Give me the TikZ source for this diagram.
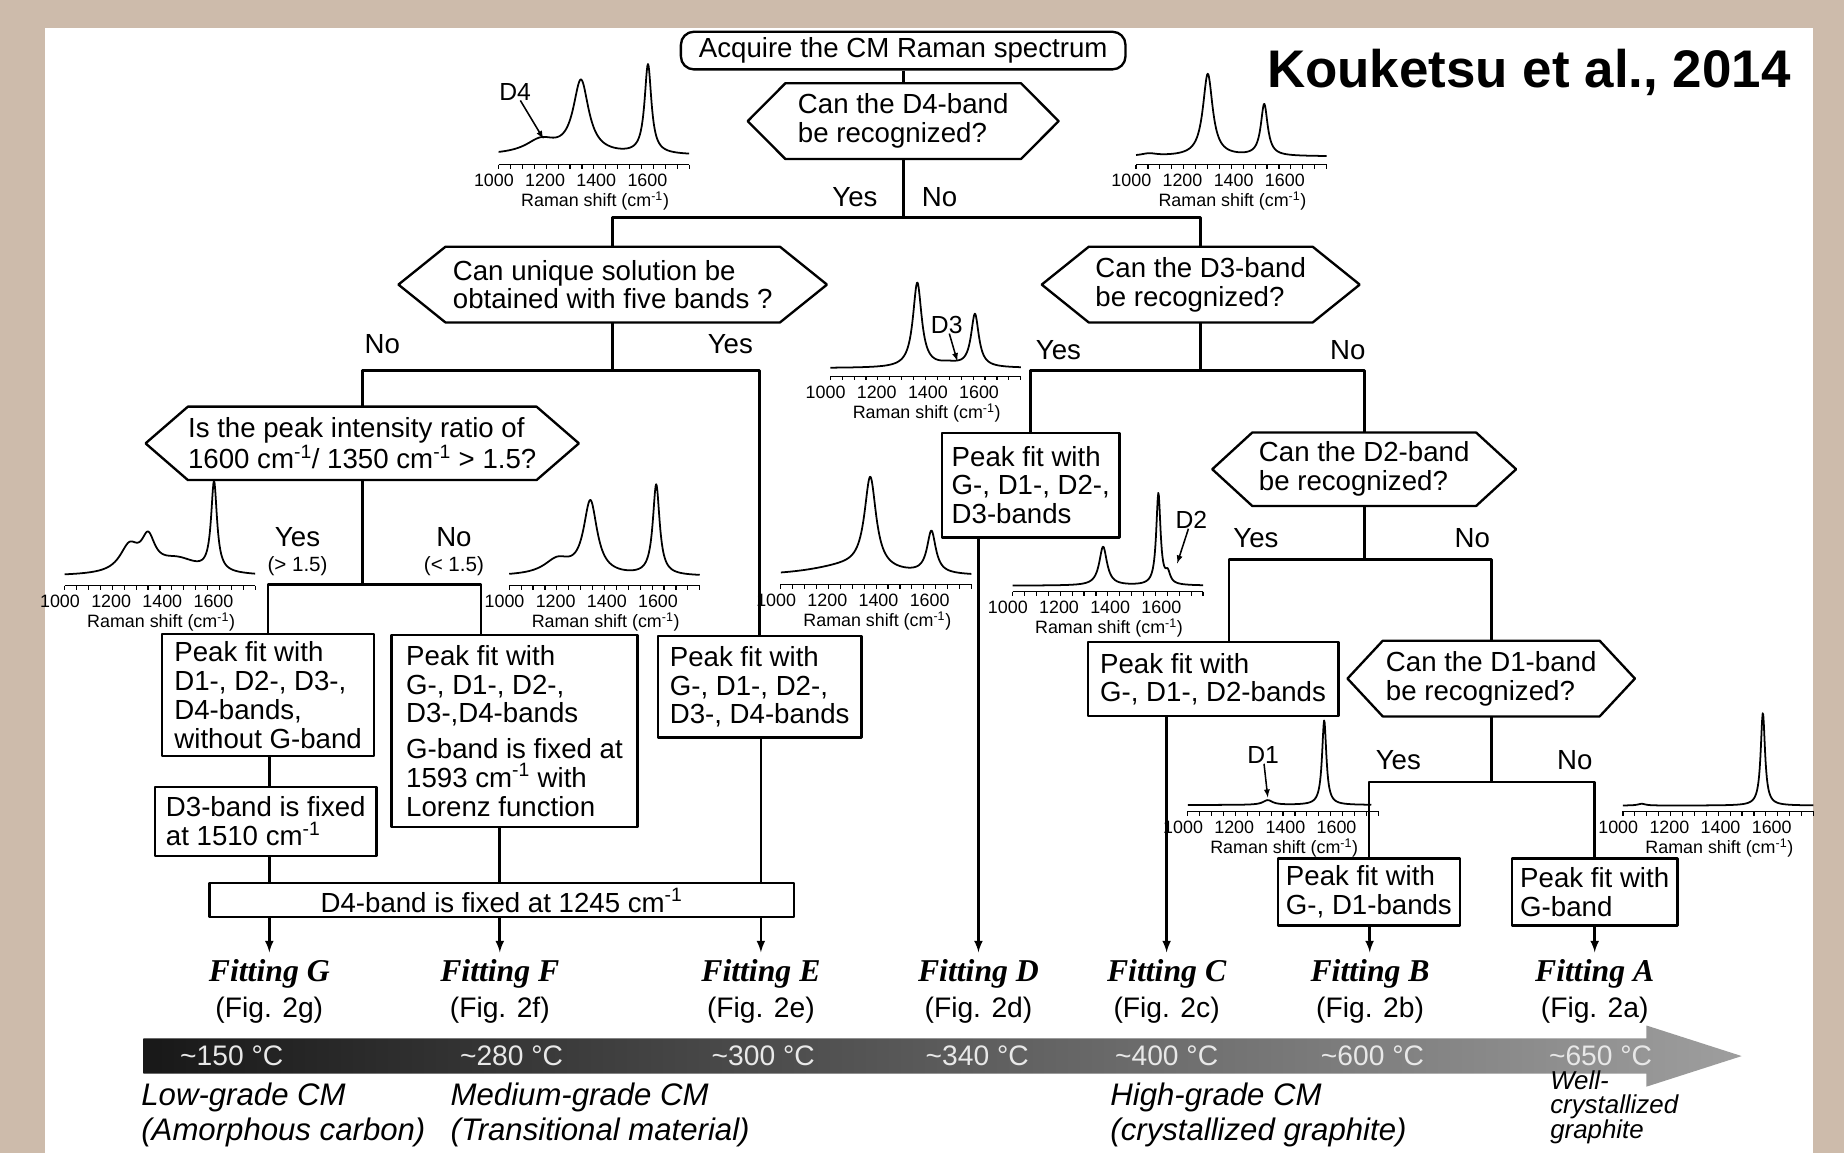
\documentclass[tikz,border=0pt]{standalone}
\usepackage{fontspec}
\setmainfont{Liberation Sans}
\newfontfamily\fitserif{Liberation Serif}
\definecolor{tanbg}{RGB}{205,187,171}
\definecolor{barleft}{RGB}{24,24,24}
\definecolor{barright}{RGB}{158,158,158}
\definecolor{templab}{RGB}{232,232,232}
\tikzset{
  raman/.pic={
    \draw[line width=1.4] (4,0) -- (166,0);
    \foreach \k in {0,...,16} \draw[line width=1] ({4+\k*10.125},0) -- ++(0,3.5);
    \foreach \v [count=\i from 0] in {1000,1200,1400,1600}
      \node (-t\v) at ({\i*43.5},13.5) [ticklab] {\v};
    \node (-rs) at (86,31) [ticklab] {Raman shift (cm\textsuperscript{-1})};
  }
}
\begin{document}
\begin{tikzpicture}[>=latex, line join=bevel, x=1pt, y=-1pt,
  declare function={lor(\s,\pc,\ph,\pw)=\ph/(1+((\s-\pc)/\pw)^2);},
  every node/.style={inner sep=0pt},
  body/.style={font=\fontsize{23.5}{24.5}\selectfont},
  smalllab/.style={font=\fontsize{17.5}{19}\selectfont},
  ticklab/.style={font=\fontsize{15.2}{16}\selectfont},
  speclab/.style={font=\fontsize{21}{23}\selectfont},
  fitbox/.style={body, draw, line width=2, align=left},
  qhex/.style={body, align=left},
  hexline/.style={draw, line width=2},
  conn/.style={line width=2.3},
  spec/.style={line width=1.5, line join=round},
  fitlab/.style={font=\fontsize{27}{30}\fitserif\bfseries\itshape, outer ysep=6},
  figlab/.style={font=\fontsize{24}{26}\selectfont},
  templab/.style={font=\fontsize{24}{26}\selectfont, text=templab},
  grade/.style={font=\fontsize{26.5}{30}\selectfont\itshape, anchor=west, align=left},
]
%%
\fill[tanbg] (0,0) rectangle (1568,980);
\fill[white] (38,24) rectangle (1542,980);
\useasboundingbox (0,0) rectangle (1568,980);
%
\node (title) at (1300,62) [font=\fontsize{45}{50}\selectfont\bfseries] {Kouketsu et al., 2014};
\node (acq) at (768,43) [fitbox, rounded corners=11, minimum width=378, minimum height=32] {Acquire the CM Raman spectrum};
%
\node (d4q) at (768,103) [qhex, minimum width=200, minimum height=64] {Can the D4-band\\be recognized?};
\node (uniq) at (521,242) [qhex, minimum width=284, minimum height=64] {Can unique solution be\\obtained with five bands ?};
\node (d3q) at (1021,242) [qhex, minimum width=190, minimum height=64] {Can the D3-band\\be recognized?};
\node (ratio) at (308,377) [qhex, minimum width=292, minimum height=62] {Is the peak intensity ratio of\\1600 cm\textsuperscript{-1}/ 1350 cm\textsuperscript{-1} > 1.5?};
\node (d2q) at (1160,399) [qhex, minimum width=190, minimum height=62] {Can the D2-band\\be recognized?};
\node (d1q) at (1268,577) [qhex, minimum width=184, minimum height=64] {Can the D1-band\\be recognized?};
\foreach \q/\d in {d4q/32, uniq/40, d3q/40, ratio/36, d2q/34, d1q/30}
  \draw[hexline] (\q.north west) -- (\q.north east) -- ([xshift=\d]\q.east) -- (\q.south east) -- (\q.south west) -- ([xshift=-\d]\q.west) -- cycle;
%
\node (boxG) at (228,591) [fitbox, minimum width=180, minimum height=104] {Peak fit with\\D1-, D2-, D3-,\\D4-bands,\\without G-band};
\node (boxD3) at (226,698.5) [fitbox, minimum width=188, minimum height=59] {D3-band is fixed\\at 1510 cm\textsuperscript{-1}};
\node (boxF) at (437.5,621.5) [fitbox, minimum width=209, minimum height=163] {Peak fit with\\G-, D1-, D2-,\\D3-,D4-bands\\[6pt]G-band is fixed at\\1593 cm\textsuperscript{-1} with\\Lorenz function};
\node (boxE) at (646,584) [fitbox, minimum width=173, minimum height=86] {Peak fit with\\G-, D1-, D2-,\\D3-, D4-bands};
\node (boxD4) at (426.5,765.5) [fitbox, align=center, minimum width=497, minimum height=29] {D4-band is fixed at 1245 cm\textsuperscript{-1}};
\node (boxD) at (876.5,412.5) [fitbox, minimum width=151, minimum height=89] {Peak fit with\\G-, D1-, D2-,\\D3-bands};
\node (boxC) at (1031.5,577.5) [fitbox, minimum width=213, minimum height=63] {Peak fit with\\G-, D1-, D2-bands};
\node (boxB) at (1164,758.5) [fitbox, minimum width=155, minimum height=57] {Peak fit with\\G-, D1-bands};
\node (boxA) at (1356,758.5) [fitbox, minimum width=141, minimum height=57] {Peak fit with\\G-band};
%
\node (y1) at (727,168) [body] {Yes};
\node (n1) at (799,168) [body] {No};
\node (n2) at (325,293) [body] {No};
\node (y2) at (621,293) [body] {Yes};
\node (y3) at (900,298) [body] {Yes};
\node (n3) at (1146,298) [body] {No};
\node (y4) at (253,457) [body] {Yes};
\node (y4r) at (253,481) [smalllab] {(> 1.5)};
\node (n4) at (386,457) [body] {No};
\node (n4r) at (386,481) [smalllab] {(< 1.5)};
\node (y5) at (1068,458) [body] {Yes};
\node (n5) at (1252,458) [body] {No};
\node (y6) at (1189,646) [body] {Yes};
\node (n6) at (1339,646) [body] {No};
%
\foreach \n/\xx/\f in {G/229/g, F/425/f, E/647/e, D/832/d, C/992/c, B/1165/b, A/1356/a} {
  \node (fit\n) at (\xx,828) [fitlab] {Fitting \n};
  \node (fig\n) at (\xx,859) [figlab] {(Fig. 2\f)};
}
%
\coordinate (j1) at (768,185);
\coordinate (j2) at (521,315);
\coordinate (j3) at (308,497);
\coordinate (j4) at (1021,315);
\coordinate (j5) at (1160,476);
\coordinate (j6) at (1268,665);
\coordinate (fin) at (409,540);
\coordinate (cin) at (1045,546);
\draw[conn] (acq) -- (d4q);
\draw[conn] (d4q) -- (j1);
\draw[conn] (uniq) |- (j1) -| (d3q);
\draw[conn] (uniq) -- (j2);
\draw[conn] (ratio) |- (j2) -| (boxE);
\draw[conn] (ratio) -- (j3);
\draw[conn] (boxG) |- (j3) -| (fin);
\draw[conn] (d3q) -- (j4);
\draw[conn] (boxD) |- (j4) -| (d2q);
\draw[conn] (d2q) -- (j5);
\draw[conn] (cin) |- (j5) -| (d1q);
\draw[conn] (d1q) -- (j6);
\draw[conn] (boxB) |- (j6) -| (boxA);
\draw[conn] (boxG.south -| fitG) -- (boxD3.north -| fitG);
\draw[conn] (boxD3.south -| fitG) -- (boxD4.north -| fitG);
\draw[conn] (boxF.south -| fitF) -- (boxD4.north -| fitF);
\draw[conn] (boxE.south -| fitE) -- (boxD4.north -| fitE);
\draw[conn,->] (boxD4.south -| fitG) -- (fitG);
\draw[conn,->] (boxD4.south -| fitF) -- (fitF);
\draw[conn,->] (boxD4.south -| fitE) -- (fitE);
\draw[conn,->] (boxD.south -| fitD) -- (fitD);
\draw[conn,->] (boxC.south -| fitC) -- (fitC);
\draw[conn,->] (boxB) -- (fitB);
\draw[conn,->] (boxA) -- (fitA);
%
\pic (s1) at (420,140) {raman};
\draw[spec, shift={(420,140)}] plot[domain=4:166, samples=320] (\x, {-8-lor(\x,40,12,16)-lor(\x,74,62,8)-lor(\x,131,76,3.5)});
\pic (s2) at (962,140) {raman};
\draw[spec, shift={(962,140)}] plot[domain=4:166, samples=320] (\x, {-7-lor(\x,15,2,8)-lor(\x,65,70,5)-lor(\x,113,44,3.5)});
\pic (s3) at (702,320) {raman};
\draw[spec, shift={(702,320)}] plot[domain=4:166, samples=320] (\x, {-7-lor(\x,78,72,4.5)-lor(\x,105,3,12)-lor(\x,127,45,4)});
\pic (s4) at (51,498) {raman};
\draw[spec, shift={(51,498)}] plot[domain=4:166, samples=320] (\x, {-8-lor(\x,59,22,10)-lor(\x,75,26,7)-lor(\x,100,13,22)-lor(\x,131,76,3)});
\pic (s5) at (429,498) {raman};
\draw[spec, shift={(429,498)}] plot[domain=4:166, samples=320] (\x, {-8-lor(\x,45,13,14)-lor(\x,73,62,7)-lor(\x,129,77,3.5)});
\pic (s6) at (660,497) {raman};
\draw[spec, shift={(660,497)}] plot[domain=4:166, samples=320] (\x, {-7-lor(\x,60,8,40)-lor(\x,80,78,6)-lor(\x,132,36,4.5)});
\pic (s7) at (857,503) {raman};
\draw[spec, shift={(857,503)}] plot[domain=4:166, samples=320] (\x, {-5-lor(\x,81,33,4)-lor(\x,128,78,2.2)-lor(\x,136,9,2.5)});
\pic (s8) at (1006,690) {raman};
\draw[spec, shift={(1006,690)}] plot[domain=4:160, samples=320] (\x, {-5.5-lor(\x,72,4,5)-lor(\x,120,72,2.2)});
\pic (s9) at (1376,690) {raman};
\draw[spec, shift={(1376,690)}] plot[domain=4:166, samples=320] (\x, {-5-lor(\x,20,1.5,4)-lor(\x,123,79,2.2)});
%
\node (d4lab) at (438,78) [speclab] {D4};
\node (d3lab) at (805,276) [speclab] {D3};
\node (d2lab) at (1013,442) [speclab] {D2};
\node (d1lab) at (1074,642) [speclab] {D1};
\coordinate (d4pt) at (462,118);
\coordinate (d3pt) at (814,307);
\coordinate (d2pt) at (1001,479);
\coordinate (d1pt) at (1078,678);
\draw[line width=1.3,->] (d4lab) -- (d4pt);
\draw[line width=1.3,->] (d3lab) -- (d3pt);
\draw[line width=1.3,->] (d2lab) -- (d2pt);
\draw[line width=1.3,->] (d1lab) -- (d1pt);
%
\shade[left color=barleft, right color=barright] (122,883) -- (1400,883) -- (1400,872) -- (1481,898) -- (1400,924) -- (1400,913) -- (122,913) -- cycle;
\foreach \xx/\tv in {197/150, 435/280, 649/300, 831/340, 992/400, 1167/600, 1361/650}
  \node (temp\tv) at (\xx,898) [templab] {\textasciitilde\tv\ °C};
%
\node (lowg) at (120,933) [grade] {Low-grade CM};
\node (lowgb) at (120,963) [grade] {(Amorphous carbon)};
\node (medg) at (383,933) [grade] {Medium-grade CM};
\node (medgb) at (383,963) [grade] {(Transitional material)};
\node (highg) at (944,933) [grade] {High-grade CM};
\node (highgb) at (944,963) [grade] {(crystallized graphite)};
\node (wellg) at (1318,910) [grade, anchor=north west, font=\fontsize{22}{21}\selectfont\itshape] {Well-\\crystallized\\graphite};
%
\end{tikzpicture}
\end{document}
